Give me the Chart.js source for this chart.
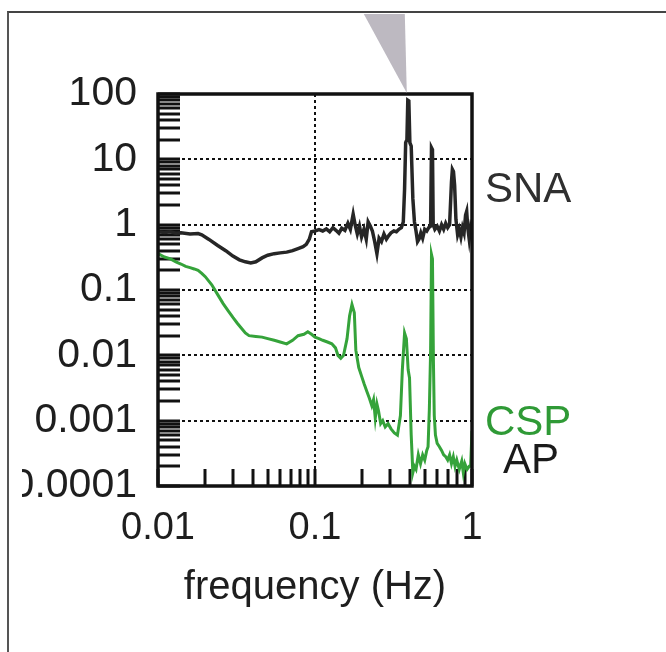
<!DOCTYPE html>
<html>
<head>
<meta charset="utf-8">
<script src="https://cdn.jsdelivr.net/npm/chart.js@4.4.1/dist/chart.umd.min.js"></script>
<style>
  html, body { margin: 0; padding: 0; background: #fff; }
  body { width: 666px; height: 652px; position: relative; overflow: hidden; }
  #frame { position: absolute; left: 7px; top: 11px; width: 700px; height: 700px;
           border-left: 2px solid #555; border-top: 2px solid #444; }
  #wrap { position: absolute; left: 22px; top: 14px; width: 644px; height: 638px; }
</style>
</head>
<body>
<div id="frame"></div>
<div id="wrap"><canvas id="chart"></canvas></div>
<script>
// spectra (frequency in Hz, power)
const snaFreq = [0.010, 0.011, 0.012, 0.013, 0.014, 0.016, 0.018, 0.019, 0.021, 0.024,
  0.027, 0.030, 0.033, 0.036, 0.039, 0.042, 0.046, 0.050, 0.055, 0.060,
  0.066, 0.072, 0.078, 0.084, 0.088, 0.092, 0.095, 0.100, 0.106, 0.112,
  0.118, 0.124, 0.130, 0.136, 0.142, 0.148, 0.155, 0.162, 0.168, 0.175,
  0.180, 0.186, 0.192, 0.198, 0.205, 0.212, 0.218, 0.225, 0.232, 0.240,
  0.248, 0.256, 0.265, 0.275, 0.285, 0.295, 0.305, 0.318, 0.330, 0.342,
  0.355, 0.365, 0.372, 0.378, 0.385, 0.390, 0.396, 0.402, 0.410, 0.420,
  0.430, 0.440, 0.450, 0.460, 0.472, 0.485, 0.500, 0.515, 0.530, 0.545,
  0.552, 0.560, 0.566, 0.580, 0.600, 0.620, 0.640, 0.660, 0.680, 0.700,
  0.720, 0.740, 0.750, 0.762, 0.775, 0.790, 0.810, 0.830, 0.850, 0.870,
  0.890, 0.910, 0.925, 0.940, 0.960, 0.980, 1.000];
const snaPower = [0.78, 0.76, 0.78, 0.74, 0.75, 0.72, 0.73, 0.70, 0.60, 0.48,
  0.40, 0.33, 0.29, 0.27, 0.26, 0.27, 0.31, 0.34, 0.36, 0.37,
  0.38, 0.40, 0.43, 0.46, 0.50, 0.60, 0.78, 0.80, 0.84, 0.80,
  0.86, 0.78, 0.90, 0.82, 0.74, 0.88, 0.82, 1.05, 0.85, 1.45,
  1.00, 0.72, 0.95, 0.65, 0.85, 0.60, 1.10, 0.95, 0.80, 0.55,
  0.36, 0.62, 0.55, 0.72, 0.60, 0.68, 0.75, 0.80, 0.78, 0.85,
  0.90, 1.10, 3.5, 18, 20, 80, 78, 18, 16, 2.5,
  1.10, 0.80, 0.55, 0.60, 0.75, 0.62, 0.85, 0.80, 0.90, 0.95,
  15, 14, 1.00, 0.85, 0.95, 0.80, 1.00, 0.85, 1.05, 0.90,
  1.00, 4.5, 7.0, 6.5, 4.0, 1.20, 0.70, 0.85, 0.65, 0.90,
  0.75, 1.40, 1.60, 0.90, 0.60, 0.90, 0.75];

const cspFreq = [0.010, 0.011, 0.012, 0.013, 0.014, 0.015, 0.016, 0.017, 0.018, 0.019,
  0.020, 0.022, 0.024, 0.026, 0.028, 0.030, 0.032, 0.034, 0.036, 0.038,
  0.042, 0.046, 0.050, 0.055, 0.060, 0.066, 0.072, 0.078, 0.085, 0.090,
  0.095, 0.100, 0.106, 0.112, 0.120, 0.128, 0.135, 0.140, 0.146, 0.152,
  0.160, 0.166, 0.172, 0.178, 0.182, 0.190, 0.198, 0.206, 0.214, 0.222,
  0.230, 0.236, 0.242, 0.248, 0.254, 0.262, 0.270, 0.280, 0.292, 0.305,
  0.320, 0.335, 0.350, 0.360, 0.372, 0.382, 0.392, 0.400, 0.410, 0.420,
  0.430, 0.440, 0.455, 0.470, 0.485, 0.500, 0.515, 0.525, 0.535, 0.545,
  0.552, 0.560, 0.568, 0.575, 0.585, 0.600, 0.620, 0.640, 0.660, 0.680,
  0.700, 0.720, 0.740, 0.760, 0.780, 0.800, 0.830, 0.860, 0.880, 0.900,
  0.930, 0.960, 0.980, 1.000];
const cspPower = [0.36, 0.32, 0.30, 0.27, 0.25, 0.23, 0.22, 0.21, 0.20, 0.18,
  0.16, 0.12, 0.085, 0.062, 0.048, 0.038, 0.031, 0.026, 0.022, 0.020,
  0.0195, 0.019, 0.018, 0.017, 0.016, 0.015, 0.017, 0.020, 0.021, 0.023,
  0.021, 0.019, 0.018, 0.017, 0.016, 0.015, 0.013, 0.010, 0.009, 0.010,
  0.018, 0.040, 0.060, 0.045, 0.012, 0.0065, 0.0048, 0.0036, 0.0028, 0.0022,
  0.0017, 0.0021, 0.0011, 0.0018, 0.0014, 0.0009, 0.0010, 0.0008, 0.0009, 0.00075,
  0.00065, 0.0006, 0.0012, 0.006, 0.022, 0.018, 0.006, 0.0045, 0.0006, 0.00016,
  0.0002, 0.00018, 0.0003, 0.00022, 0.0003, 0.00025, 0.00035, 0.0004, 0.0015, 0.012,
  0.35, 0.30, 0.008, 0.0012, 0.0006, 0.00045, 0.0004, 0.00035, 0.0003, 0.00028,
  0.00025, 0.0003, 0.00022, 0.00028, 0.0002, 0.00025, 0.00018, 0.00024, 0.00016, 0.00022,
  0.00018, 0.0002, 0.0002, 0.0007];

// axes
const xDecades = [0.01, 0.1, 1];
const xTickLabels = ['0.01', '0.1', '1'];
const yDecades = [0.0001, 0.001, 0.01, 0.1, 1, 10, 100];
const yTickLabels = ['0.0001', '0.001', '0.01', '0.1', '1', '10', '100'];
const minorSteps = [2, 3, 4, 5, 6, 7, 8, 9];

// series names written beside the plot, and the peak marked by the grey arrow
const seriesNames = ['SNA', 'CSP', 'AP'];
const markerFreq = 0.39;

const FONT = "'Liberation Sans', Arial, sans-serif";
const INK = '#1e1e1e';

function tickList(decades) {
  const out = [];
  decades.forEach((d, i) => {
    out.push({ value: d, major: true });
    if (i < decades.length - 1) minorSteps.forEach(s => out.push({ value: +(s * d).toPrecision(3), major: false }));
  });
  return out;
}
function isDecade(v, decades) {
  return decades.some(d => Math.abs(v / d - 1) < 1e-6);
}
function labelOf(v, decades, labels) {
  const i = decades.findIndex(d => Math.abs(v / d - 1) < 1e-6);
  return i >= 0 ? labels[i] : '';
}

const sideText = {
  id: 'sideText',
  afterDraw(chart) {
    const { ctx, chartArea: a, scales: { x, y } } = chart;
    ctx.save();
    // plot frame
    ctx.lineWidth = 3.5;
    ctx.strokeStyle = '#111';
    ctx.strokeRect(a.left, a.top, a.right - a.left, a.bottom - a.top);

    // grey arrow pointing at the peak
    const px = x.getPixelForValue(markerFreq);
    ctx.fillStyle = '#bdb9c1';
    ctx.beginPath();
    ctx.moveTo(px - 44, 0);
    ctx.lineTo(px - 3, 0);
    ctx.lineTo(px - 1, a.top - 1);
    ctx.closePath();
    ctx.fill();

    // series names
    ctx.font = '42px ' + FONT;
    ctx.textAlign = 'left';
    ctx.textBaseline = 'middle';
    ctx.fillStyle = '#2f2f2f';
    ctx.fillText(seriesNames[0], a.right + 13, y.getPixelForValue(3.4));
    ctx.fillStyle = '#2f9a36';
    ctx.fillText(seriesNames[1], a.right + 13, y.getPixelForValue(0.0009));
    ctx.fillStyle = '#1a1a1a';
    ctx.fillText(seriesNames[2], a.right + 31, y.getPixelForValue(0.00024));
    ctx.restore();
  }
};

const ctx = document.getElementById('chart').getContext('2d');

new Chart(ctx, {
  type: 'line',
  data: {
    datasets: [
      {
        label: 'CSP',
        data: cspFreq.map((f, i) => ({ x: f, y: cspPower[i] })),
        borderColor: '#35a33a',
        borderWidth: 3,
        pointRadius: 0,
        fill: false,
        tension: 0
      },
      {
        label: 'SNA',
        data: snaFreq.map((f, i) => ({ x: f, y: snaPower[i] })),
        borderColor: '#262626',
        borderWidth: 3.5,
        pointRadius: 0,
        fill: false,
        tension: 0
      }
    ]
  },
  options: {
    responsive: true,
    maintainAspectRatio: false,
    animation: false,
    devicePixelRatio: 1,
    layout: { padding: { left: 0, top: 80, right: 194, bottom: 40 } },
    plugins: { legend: { display: false }, tooltip: { enabled: false } },
    scales: {
      x: {
        type: 'logarithmic',
        position: 'bottom',
        min: 0.01,
        max: 1,
        afterBuildTicks: axis => { axis.ticks = tickList(xDecades); },
        afterFit: axis => { axis.height = 126; },
        grid: {
          color: c => (c.tick && isDecade(c.tick.value, xDecades)) ? '#111' : 'rgba(0,0,0,0)',
          lineWidth: 2,
          tickColor: '#111',
          tickWidth: 3,
          tickLength: -17
        },
        border: { display: false, dash: [3, 3] },
        ticks: {
          autoSkip: false,
          maxRotation: 0,
          padding: 37,
          color: INK,
          font: { family: FONT, size: 38 },
          callback: v => labelOf(v, xDecades, xTickLabels)
        },
        title: {
          display: true,
          text: 'frequency (Hz)',
          color: INK,
          padding: 0,
          font: { family: FONT, size: 40 }
        }
      },
      y: {
        type: 'logarithmic',
        min: 0.0001,
        max: 100,
        afterBuildTicks: axis => { axis.ticks = tickList(yDecades); },
        afterFit: axis => { axis.width = 136; },
        grid: {
          color: c => (c.tick && isDecade(c.tick.value, yDecades)) ? '#111' : 'rgba(0,0,0,0)',
          lineWidth: 2,
          tickColor: '#111',
          tickWidth: 3,
          tickLength: -22
        },
        border: { display: false, dash: [3, 3] },
        ticks: {
          autoSkip: false,
          padding: 43,
          color: INK,
          font: { family: FONT, size: 41 },
          callback: v => labelOf(v, yDecades, yTickLabels)
        }
      }
    }
  },
  plugins: [sideText]
});
</script>
</body>
</html>
